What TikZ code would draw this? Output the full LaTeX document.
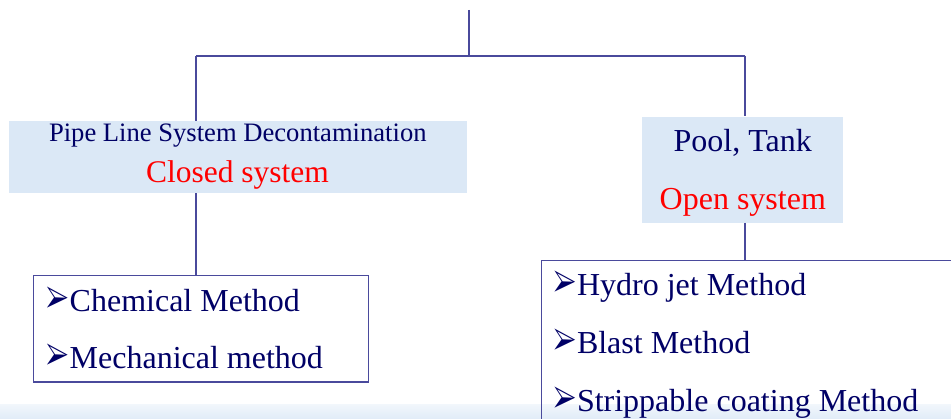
\documentclass[tikz,border=0pt]{standalone}
\usepackage{fontspec}
\setmainfont{Liberation Serif}
\usepackage{pifont}
\usepackage{graphicx}
\usepackage{tikz}
\usetikzlibrary{positioning}
\definecolor{navytext}{HTML}{000066}
\definecolor{linkline}{HTML}{4A4A9C}
\definecolor{catfill}{HTML}{DBE8F6}
\tikzset{
  catbox/.style={fill=catfill, inner sep=0pt},
  listbox/.style={draw=linkline, line width=1.2pt, inner sep=0pt},
  link/.style={draw=linkline, line width=1.2pt},
  label/.style={anchor=base, inner sep=0pt, text=navytext},
  item/.style={anchor=base west, inner sep=0pt, text=navytext, font=\fontsize{32}{32}\selectfont},
}
\newcommand{\arrowbullet}{\makebox[23.5pt][l]{\resizebox{22.5pt}{24pt}{\ding{226}}}}

\begin{document}
\begin{tikzpicture}[x=1pt, y=-1pt]
    \useasboundingbox (0,0) rectangle (951,419);
    \shade[top color=white!60!catfill, bottom color=catfill!85] (0,405) rectangle (951,419);
    % category boxes
    \node[catbox, minimum width=458pt, minimum height=72pt] (pipe) at (237.5,157) {};
    \node[label, font=\fontsize{26.6}{26.6}\selectfont] (pipetitle) at (237.8,142) {Pipe Line System Decontamination};
    \node[label, text=red, font=\fontsize{31.5}{31.5}\selectfont] (closed) at (237.5,183) {Closed system};
    \node[catbox, minimum width=201pt, minimum height=106pt] (pool) at (742.8,169.7) {};
    \node[label, font=\fontsize{32}{32}\selectfont] (pooltitle) at (742.8,151.7) {Pool, Tank};
    \node[label, text=red, font=\fontsize{32}{32}\selectfont] (open) at (742.8,210) {Open system};
    % method boxes
    \node[listbox, minimum width=335.5pt, minimum height=106.5pt, anchor=north west] (chem) at (32.7,275) {};
    \node[item] (chemical) at (46,311.7) {\arrowbullet Chemical Method};
    \node[item] (mechanical) at (46,369) {\arrowbullet Mechanical method};
    \node[listbox, minimum width=430pt, minimum height=180pt, anchor=north west] (methods) at (541,260) {};
    \node[item] (hydro) at (553.3,296) {\arrowbullet Hydro jet Method};
    \node[item] (blast) at (553.3,353.3) {\arrowbullet Blast Method};
    \node[item] (strip) at (553.3,411.7) {\arrowbullet Strippable coating Method};
    % connectors
    \coordinate (top) at (469,10);
    \coordinate (split) at (469,56);
    \coordinate (lbranch) at (196,56);
    \coordinate (rbranch) at (745,56);
    \draw[link] (top) -- (split);
    \draw[link] (lbranch) -- (rbranch);
    \draw[link] (lbranch) -- (lbranch |- pipe.north);
    \draw[link] (rbranch) -- (rbranch |- pool.north);
    \draw[link] (lbranch |- pipe.south) -- (lbranch |- chem.north);
    \draw[link] (rbranch |- pool.south) -- (rbranch |- methods.north);
\end{tikzpicture}
\end{document}
